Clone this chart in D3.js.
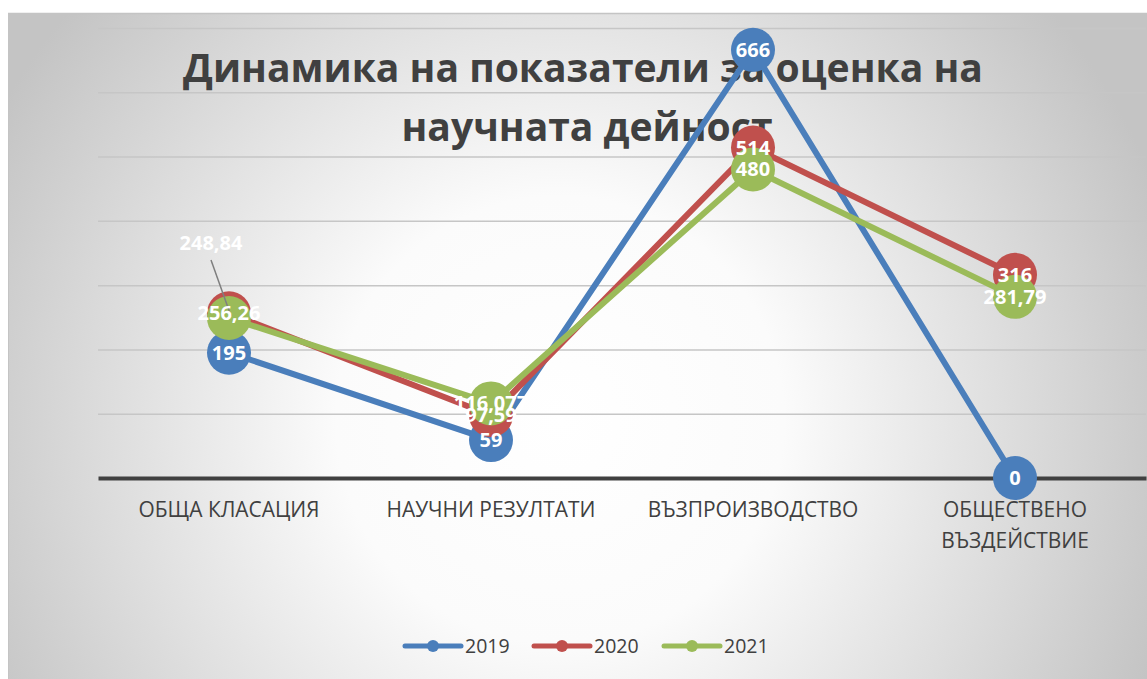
<!DOCTYPE html>
<html><head><meta charset="utf-8">
<script src="https://cdn.jsdelivr.net/npm/d3@7"></script>
<style>html,body{margin:0;padding:0;background:#fff;}svg{display:block;}</style>
</head><body>
<svg id="c" width="1147" height="679"></svg>
<script>
const categories = ["ОБЩА КЛАСАЦИЯ", "НАУЧНИ РЕЗУЛТАТИ", "ВЪЗПРОИЗВОДСТВО", "ОБЩЕСТВЕНО ВЪЗДЕЙСТВИЕ"];
const seriesNames = ["2019", "2020", "2021"];
const values2019 = [195, 59, 666, 0];
const values2020 = [256.26, 97.59, 514, 316];
const values2021 = [248.84, 116.077, 480, 281.79];
const labels2019 = ["195", "59", "666", "0"];
const labels2020 = ["256,26", "97,59", "514", "316"];
const labels2021 = ["248,84", "116,077", "480", "281,79"];
const colors = ["#4a7ebb", "#c0504d", "#9bbb59"];
const yTicks = [0, 100, 200, 300, 400, 500, 600, 700];
const titleLines = ["Динамика на показатели за оценка на", "научната дейност"];

const svg = d3.select("#c");
const W = 1147, H = 679;
const FONT = "'Open Sans', sans-serif";
function fitSize(text, weight, target, base) {
  const t = svg.append("text").attr("font-family", FONT).attr("font-weight", weight).attr("font-size", base).text(text);
  const w = t.node().getComputedTextLength();
  t.remove();
  return base * target / w;
}

const defs = svg.append("defs");
const grad = defs.append("radialGradient").attr("id", "bg")
  .attr("gradientUnits", "userSpaceOnUse")
  .attr("cx", 560).attr("cy", 420).attr("r", 640);
grad.append("stop").attr("offset", "0%").attr("stop-color", "#ffffff");
grad.append("stop").attr("offset", "35%").attr("stop-color", "#fbfbfb");
grad.append("stop").attr("offset", "100%").attr("stop-color", "#c4c4c4");

svg.append("rect").attr("x", 8).attr("y", 13).attr("width", W - 8).attr("height", H - 13).attr("fill", "url(#bg)");
svg.append("line").attr("x1", 8).attr("x2", W).attr("y1", 13.5).attr("y2", 13.5).attr("stroke", "#c4c4c4").attr("stroke-width", 1.5);
svg.append("line").attr("x1", 8.5).attr("x2", 8.5).attr("y1", 13).attr("y2", H).attr("stroke", "#c4c4c4").attr("stroke-width", 1);

const x = d3.scaleBand().domain(categories).range([98, 1146]);
const y = d3.scaleLinear().domain([0, 700]).range([478, 28]);
const cx = c => x(c) + x.bandwidth() / 2;

// gridlines
const grid = svg.append("g").call(d3.axisLeft(y).tickValues(yTicks.filter(v => v > 0)).tickSize(-(1146 - 98)).tickFormat(""))
  .attr("transform", "translate(98,0)");
grid.select(".domain").remove();
grid.selectAll(".tick line").attr("stroke", "#c6c6c6").attr("stroke-width", 1.5);

// x axis
const xa = svg.append("g").attr("transform", `translate(0,${y(0)})`).call(d3.axisBottom(x).tickSize(0).tickFormat(""));
xa.select(".domain").attr("stroke", "#404040").attr("stroke-width", 4);

// category labels
const catFs = fitSize("ОБЩА КЛАСАЦИЯ", "normal", 181, 18);
const catG = svg.append("g");
categories.forEach(c => {
  const words = c === "ОБЩЕСТВЕНО ВЪЗДЕЙСТВИЕ" ? ["ОБЩЕСТВЕНО", "ВЪЗДЕЙСТВИЕ"] : [c];
  const t = catG.append("text").attr("x", cx(c)).attr("y", 517).attr("text-anchor", "middle")
    .attr("font-family", FONT).attr("font-size", catFs).attr("fill", "#404040");
  words.forEach((w, i) => t.append("tspan").attr("x", cx(c)).attr("dy", i === 0 ? 0 : 31).text(w));
});

// title
const fs = fitSize(titleLines[0], "bold", 800, 44);
const tg = svg.append("g").attr("font-family", FONT).attr("font-weight", "bold").attr("font-size", fs).attr("fill", "#404040").attr("text-anchor", "middle");
tg.append("text").attr("x", 583).attr("y", 82).text(titleLines[0]);
tg.append("text").attr("x", 587).attr("y", 141).text(titleLines[1]);

// series
const allVals = [values2019, values2020, values2021];
const allLabels = [labels2019, labels2020, labels2021];
const line = d3.line().x((d, i) => cx(categories[i])).y(d => y(d));
allVals.forEach((vals, s) => {
  const g = svg.append("g");
  g.append("path").datum(vals).attr("d", line).attr("fill", "none").attr("stroke", colors[s])
    .attr("stroke-width", 6).attr("stroke-linejoin", "round").attr("stroke-linecap", "round");
  g.selectAll("circle").data(vals).join("circle")
    .attr("cx", (d, i) => cx(categories[i])).attr("cy", d => y(d)).attr("r", 22).attr("fill", colors[s]);
});

// leader line for 248,84
svg.append("line").attr("x1", cx(categories[0]) - 18).attr("y1", 260).attr("x2", cx(categories[0]) + 2).attr("y2", y(values2021[0]) - 2)
  .attr("stroke", "#7f7f7f").attr("stroke-width", 1.5);

// labels
const labFs = Math.min(20.5, fitSize("281,79", "bold", 63, 18));
const lg = svg.append("g").attr("font-family", FONT).attr("font-weight", "bold")
  .attr("font-size", labFs).attr("fill", "#ffffff").attr("text-anchor", "middle");
allVals.forEach((vals, s) => {
  vals.forEach((v, i) => {
    let px = cx(categories[i]), py = y(v) + 7;
    if (s === 2 && i === 0) { px -= 18; py = 250; }
    lg.append("text").attr("x", px).attr("y", py).text(allLabels[s][i]);
  });
});

// legend
const legX = [405, 534, 664];
const leg = svg.append("g");
seriesNames.forEach((n, s) => {
  const g = leg.append("g").attr("transform", `translate(${legX[s]},646)`);
  g.append("line").attr("x1", 0).attr("x2", 56).attr("stroke", colors[s]).attr("stroke-width", 5).attr("stroke-linecap", "round");
  g.append("circle").attr("cx", 28).attr("r", 6).attr("fill", colors[s]);
  g.append("text").attr("x", 60).attr("y", 7).attr("font-family", FONT).attr("font-size", 19.5).attr("fill", "#404040").text(n);
});
</script>
</body></html>
